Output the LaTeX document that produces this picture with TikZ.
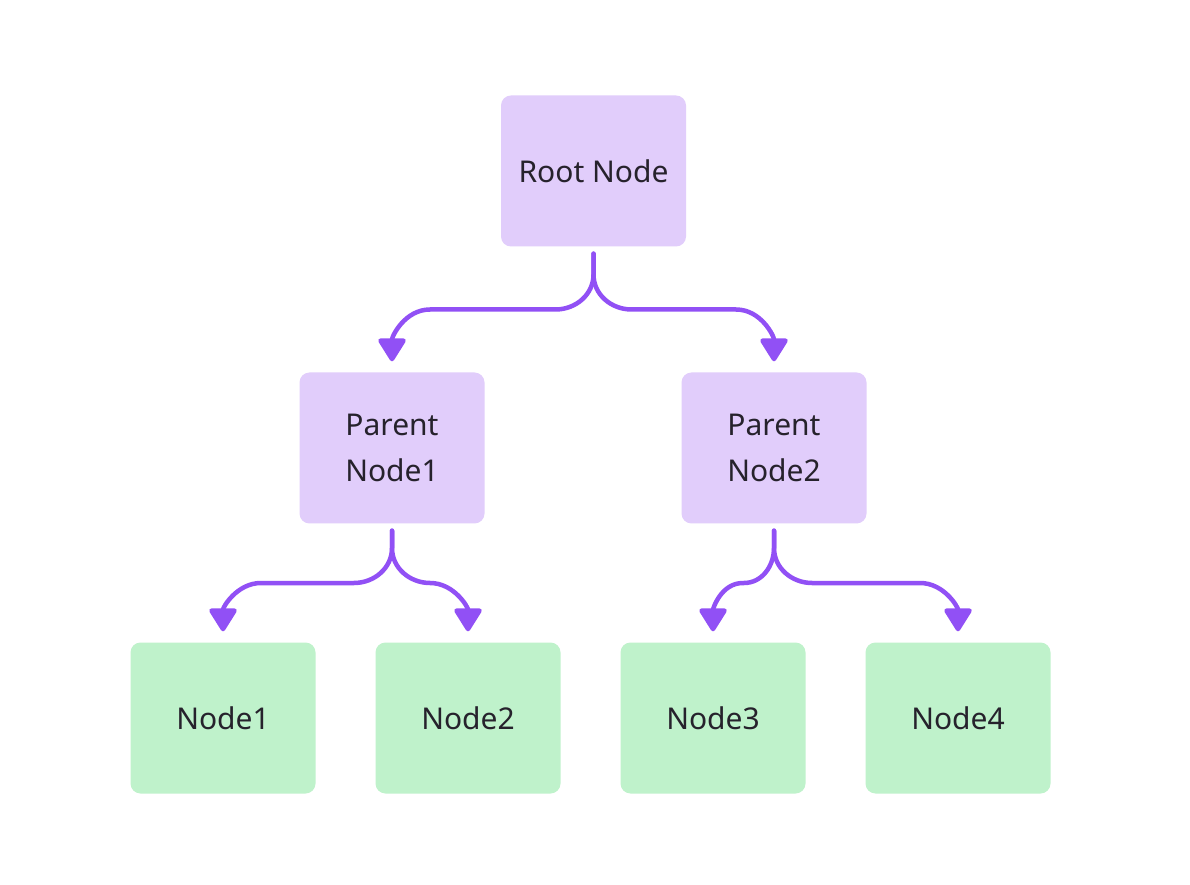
\documentclass[tikz,border=0pt]{standalone}
\usepackage{fontspec}
\setmainfont{Noto Sans}
\usetikzlibrary{arrows.meta,calc}
\definecolor{lila}{RGB}{225,205,251}
\definecolor{vert}{RGB}{191,242,203}
\definecolor{fleche}{RGB}{145,80,245}
\definecolor{encre}{RGB}{38,34,44}
\tikzset{
  boite/.style={rounded corners=10pt,minimum width=185pt,minimum height=151pt,
                align=center,text=encre,font=\fontsize{30}{46}\selectfont},
  pere/.style={boite,fill=lila},
  feuille/.style={boite,fill=vert},
  lien/.style={line width=4.5pt,draw=fleche,line cap=round,line join=round,
               -{Triangle[width=30pt,length=25pt,round]}}
}
% #1 depart, #2 arrivee, #3 rayon (signe), #4 angle d'entree, #5 angle de sortie
\newcommand\fourche[5]{%
  \coordinate (m) at ($(#1.south)!.5!(#2.north)$);
  \draw[lien] ($(#1.south)+(0,-7)$) coordinate (s) -- ($(s|-m)+(0,35)$)
    to[out=-90,in=#4] ($(s|-m)+(#3,0)$) -- ($(#2.north|-m)+(-#3,0)$)
    to[out=#5,in=90] ($(#2.north)+(0,11)$);}
\begin{document}
\begin{tikzpicture}[x=1pt,y=1pt]
\useasboundingbox[fill=white] (0,0) rectangle (1190,884);
% racine et parents
\node[pere] (racine) at (593.5,713) {Root Node};
\node[pere] (p1) at (392,436) {Parent\\Node1};
\node[pere] (p2) at (774,436) {Parent\\Node2};
% feuilles
\node[feuille] (n1) at (223,166) {Node1};
\node[feuille] (n2) at (468,166) {Node2};
\node[feuille] (n3) at (713,166) {Node3};
\node[feuille] (n4) at (958,166) {Node4};
% fleches
\fourche{racine}{p1}{-38}{0}{180}
\fourche{racine}{p2}{38}{180}{0}
\fourche{p1}{n1}{-38}{0}{180}
\fourche{p1}{n2}{38}{180}{0}
\fourche{p2}{n3}{-30}{0}{180}
\fourche{p2}{n4}{38}{180}{0}
\end{tikzpicture}
\end{document}
